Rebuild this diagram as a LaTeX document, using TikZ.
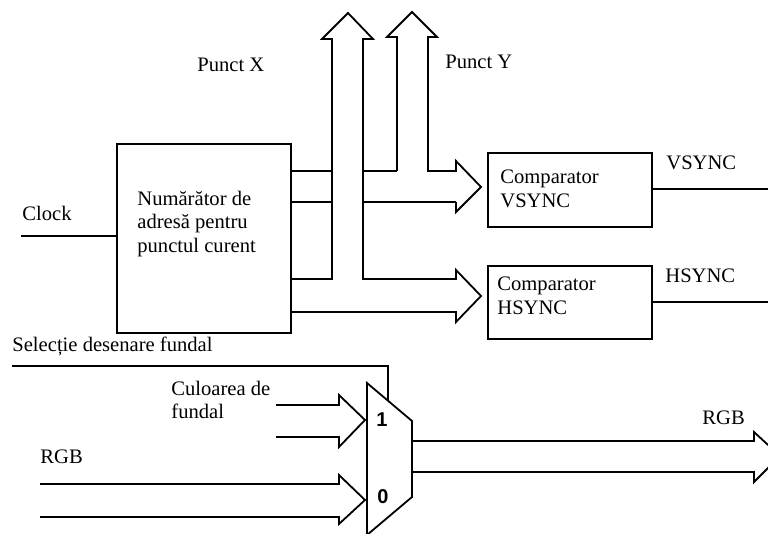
\documentclass[tikz,border=0pt]{standalone}
\usepackage{fontspec}
\setmainfont{Liberation Serif}
\setsansfont{Liberation Sans}
\usetikzlibrary{positioning}

\begin{document}
\begin{tikzpicture}[x=0.5pt, y=-0.5pt,
        bloc/.style={draw, rectangle, line width=0.9pt, inner sep=0pt},
        eticheta/.style={font=\fontsize{10.3}{11.75}\selectfont, align=left, inner sep=0pt, anchor=west},
        cifra/.style={font=\sffamily\bfseries\fontsize{10}{12}\selectfont, inner sep=0pt},
        fir/.style={line width=0.9pt},
        magistrala/.style={line width=0.9pt, line join=miter}
    ]
        \clip (0,0) rectangle (768,534);

        % Numaratorul de adresa
        \node[bloc, minimum width=87pt, minimum height=94.5pt] (contor) at (204,238.5) {};
        \node[eticheta] (contortxt) at (137,224) {Numărător de\\adresă pentru\\punctul curent};

        % Comparatoare
        \node[bloc, minimum width=82pt, minimum height=37pt] (compV) at (570,190) {};
        \node[eticheta] (compVtxt) at (500,189) {Comparator\\VSYNC};
        \node[bloc, minimum width=82pt, minimum height=36.5pt] (compH) at (570,302.5) {};
        \node[eticheta] (compHtxt) at (497,296) {Comparator\\HSYNC};

        % Etichete
        \node[eticheta] (clock) at (22,213) {Clock};
        \node[eticheta] (punctX) at (197,65) {Punct X};
        \node[eticheta] (punctY) at (445,62) {Punct Y};
        \node[eticheta] (vsync) at (666,163) {VSYNC};
        \node[eticheta] (hsync) at (665,276) {HSYNC};
        \node[eticheta] (selectie) at (12,346) {Selecție desenare fundal};
        \node[eticheta] (culoare) at (171,400) {Culoarea de\\fundal};
        \node[eticheta] (rgbin) at (40,457) {RGB};
        \node[eticheta] (rgbout) at (702,418) {RGB};

        % Clock
        \coordinate (clk) at (21,236);
        \draw[fir] (clk) -- (clk -| contor.west);

        % Magistrala Punct X
        \draw[magistrala] (291,279) -- (332,279) -- (332,39) -- (322,39) -- (348,13) -- (373,39)
            -- (363,39) -- (363,279) -- (456,279) -- (456,270) -- (481,296) -- (456,322)
            -- (456,312) -- (291,312);
        \draw[fir] (291,171) -- (332,171);
        \draw[fir] (291,202) -- (332,202);
        \draw[fir] (363,171) -- (397,171);
        \draw[fir] (363,202) -- (456,202);

        % Magistrala Punct Y
        \draw[magistrala] (397,171) -- (397,37) -- (387,37) -- (412,12) -- (437,37) -- (428,37)
            -- (428,171) -- (456,171) -- (456,161) -- (481,187) -- (456,212) -- (456,202);

        % Iesiri sincronizare
        \coordinate (vout) at (768,189);
        \coordinate (hout) at (768,302);
        \draw[fir] (compV.east |- vout) -- (vout);
        \draw[fir] (compH.east |- hout) -- (hout);

        % Multiplexor
        \coordinate (mux-st) at (367,383);
        \coordinate (mux-dr) at (412,421);
        \coordinate (mux-dj) at (412,497);
        \coordinate (mux-sj) at (367,535);
        \draw[magistrala] (mux-st) -- (mux-dr) -- (mux-dj) -- (mux-sj) -- cycle;
        \node[cifra] (unu) at (382,420) {1};
        \node[cifra] (zero) at (383,497) {0};

        % Selectie
        \coordinate (sel) at (12,366);
        \draw[fir] (sel) -- (388,366) -- (388,401);

        % Intrari multiplexor
        \draw[magistrala] (276,405) -- (339,405) -- (339,395) -- (365,420) -- (339,447) -- (339,437) -- (276,437);
        \draw[magistrala] (40,484) -- (339,484) -- (339,475) -- (365,500) -- (339,524) -- (339,517) -- (40,517);

        % Iesire RGB
        \draw[magistrala] (412,441) -- (754,441) -- (754,432) -- (780,456) -- (754,482) -- (754,472) -- (412,472);
    \end{tikzpicture}
\end{document}
